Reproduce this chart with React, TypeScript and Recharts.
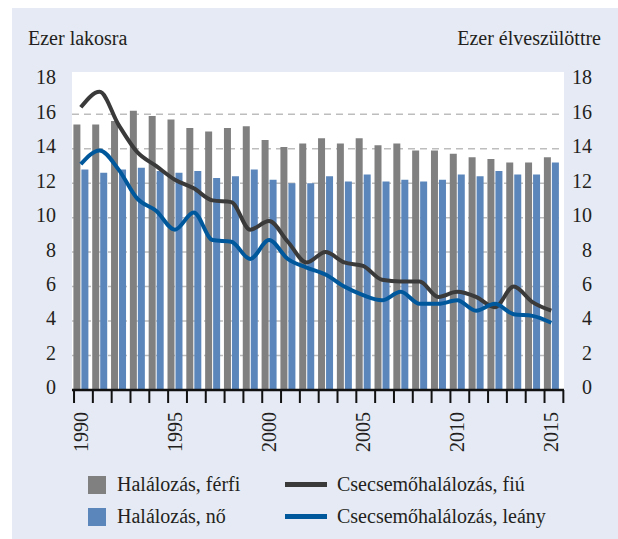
import { ComposedChart, Bar, Line, XAxis, YAxis, CartesianGrid } from 'recharts';

const years = [
  1990, 1991, 1992, 1993, 1994, 1995, 1996, 1997, 1998, 1999, 2000, 2001, 2002,
  2003, 2004, 2005, 2006, 2007, 2008, 2009, 2010, 2011, 2012, 2013, 2014, 2015,
];
// Halálozás (ezer lakosra)
const deathsMale = [
  15.4, 15.4, 15.6, 16.2, 15.9, 15.7, 15.2, 15.0, 15.2, 15.3, 14.5, 14.1, 14.3,
  14.6, 14.3, 14.6, 14.2, 14.3, 13.9, 13.9, 13.7, 13.5, 13.4, 13.2, 13.2, 13.5,
];
const deathsFemale = [
  12.8, 12.6, 12.8, 12.9, 12.7, 12.6, 12.7, 12.3, 12.4, 12.8, 12.2, 12.0, 12.0,
  12.4, 12.1, 12.5, 12.1, 12.2, 12.1, 12.2, 12.5, 12.4, 12.7, 12.5, 12.5, 13.2,
];
// Csecsemőhalálozás (ezer élveszülöttre)
const infantBoys = [
  16.4, 17.3, 15.4, 13.8, 13.0, 12.2, 11.7, 11.0, 10.9, 9.3, 9.8, 8.6, 7.4,
  8.0, 7.4, 7.2, 6.4, 6.3, 6.3, 5.4, 5.7, 5.4, 4.8, 6.0, 5.1, 4.6,
];
const infantGirls = [
  13.1, 13.9, 12.8, 11.1, 10.4, 9.3, 10.3, 8.7, 8.6, 7.6, 8.7, 7.6, 7.1,
  6.7, 6.0, 5.5, 5.2, 5.7, 5.0, 5.0, 5.2, 4.6, 5.0, 4.4, 4.3, 3.9,
];

const yTicks = [0, 2, 4, 6, 8, 10, 12, 14, 16, 18];
const gridValues = [2, 4, 6, 8, 10, 12, 14, 16];
const yearLabels = [1990, 1995, 2000, 2005, 2010, 2015];

const FONT = '"Liberation Serif", "Times New Roman", serif';
const TEXT = '#231f20';
const BG = '#e6eaf4';

const bars = [
  { key: 'male', name: 'Halálozás, férfi', color: '#808080' },
  { key: 'female', name: 'Halálozás, nő', color: '#5b86bb' },
];
const lines = [
  { key: 'boys', name: 'Csecsemőhalálozás, fiú', color: '#3a3a3a' },
  { key: 'girls', name: 'Csecsemőhalálozás, leány', color: '#00589c' },
];

const data = years.map((year, i) => ({
  year,
  male: deathsMale[i],
  female: deathsFemale[i],
  boys: infantBoys[i],
  girls: infantGirls[i],
}));

// tick marks sit between the years, a bit right of the half-year point
const boundaryTicks = [...years.map((y) => y - 0.36), years[years.length - 1] + 0.64];

function XTick({ x, y, payload }: any) {
  if (yearLabels.includes(payload.value)) {
    const ty = y + 22;
    return (
      <text
        x={x}
        y={ty}
        dy="0.35em"
        transform={`rotate(-90 ${x} ${ty})`}
        textAnchor="end"
        fill={TEXT}
        fontSize={20}
        fontFamily={FONT}
      >
        {payload.value}
      </text>
    );
  }
  return <line x1={x} x2={x} y1={y} y2={y + 13} stroke="#111" strokeWidth={2} />;
}

function YTick({ x, y, payload }: any) {
  return (
    <text x={x} y={y} dy="0.22em" textAnchor="end" fill={TEXT} fontSize={20} fontFamily={FONT}>
      {payload.value}
    </text>
  );
}

export default function App() {
  return (
    <div
      style={{
        position: 'absolute',
        left: 12,
        top: 8,
        width: 606,
        height: 531,
        background: BG,
        fontFamily: FONT,
        color: TEXT,
      }}
    >
      <div style={{ position: 'absolute', left: 16, top: 20, fontSize: 20, lineHeight: '20px' }}>
        Ezer lakosra
      </div>
      <div style={{ position: 'absolute', right: 17, top: 20, fontSize: 20, lineHeight: '20px' }}>
        Ezer élveszülöttre
      </div>

      <ComposedChart
        width={606}
        height={460}
        data={data}
        margin={{ top: 64, right: 0, bottom: 0, left: 0 }}
        barGap={1}
      >
        <CartesianGrid
          yAxisId="left"
          vertical={false}
          horizontalValues={gridValues}
          fill="#ffffff"
          fillOpacity={1}
          stroke="#bdbdbd"
          strokeWidth={1.5}
          strokeDasharray="7 5"
        />
        <XAxis
          dataKey="year"
          type="number"
          domain={[1989.532, 2015.675]}
          allowDataOverflow
          ticks={[...boundaryTicks, ...yearLabels]}
          interval={0}
          tickSize={0}
          tickMargin={0}
          tickLine={false}
          axisLine={{ stroke: '#111', strokeWidth: 2.5 }}
          tick={<XTick />}
          height={78}
        />
        <YAxis
          yAxisId="left"
          domain={[0, 18.45]}
          allowDataOverflow
          ticks={yTicks}
          interval={0}
          width={60}
          axisLine={false}
          tickLine={false}
          tickSize={0}
          tickMargin={16}
          tick={<YTick />}
        />
        <YAxis
          yAxisId="right"
          orientation="right"
          domain={[0, 18.45]}
          allowDataOverflow
          ticks={yTicks}
          interval={0}
          width={54}
          axisLine={false}
          tickLine={false}
          tickSize={0}
          tickMargin={28}
          tick={<YTick />}
        />
        {bars.map((b) => (
          <Bar
            key={b.key}
            yAxisId="left"
            dataKey={b.key}
            name={b.name}
            fill={b.color}
            barSize={7}
            isAnimationActive={false}
          />
        ))}
        {lines.map((l) => (
          <Line
            key={l.key}
            yAxisId="right"
            type="monotone"
            dataKey={l.key}
            name={l.name}
            stroke={l.color}
            strokeWidth={4}
            dot={false}
            activeDot={false}
            isAnimationActive={false}
          />
        ))}
      </ComposedChart>

      {[...bars, ...lines].map((s, i) => {
        const isLine = i >= bars.length;
        const row = i % 2;
        return (
          <div
            key={s.key}
            style={{
              position: 'absolute',
              left: isLine ? 273 : 76,
              top: row ? 499 : 467,
              height: 19,
              display: 'flex',
              alignItems: 'center',
              fontSize: 20,
              whiteSpace: 'nowrap',
            }}
          >
            <span
              style={{
                display: 'inline-block',
                width: isLine ? 42 : 18,
                height: isLine ? 5 : 18,
                background: s.color,
                marginRight: isLine ? 10 : 11,
              }}
            />
            <span>{s.name}</span>
          </div>
        );
      })}
    </div>
  );
}
